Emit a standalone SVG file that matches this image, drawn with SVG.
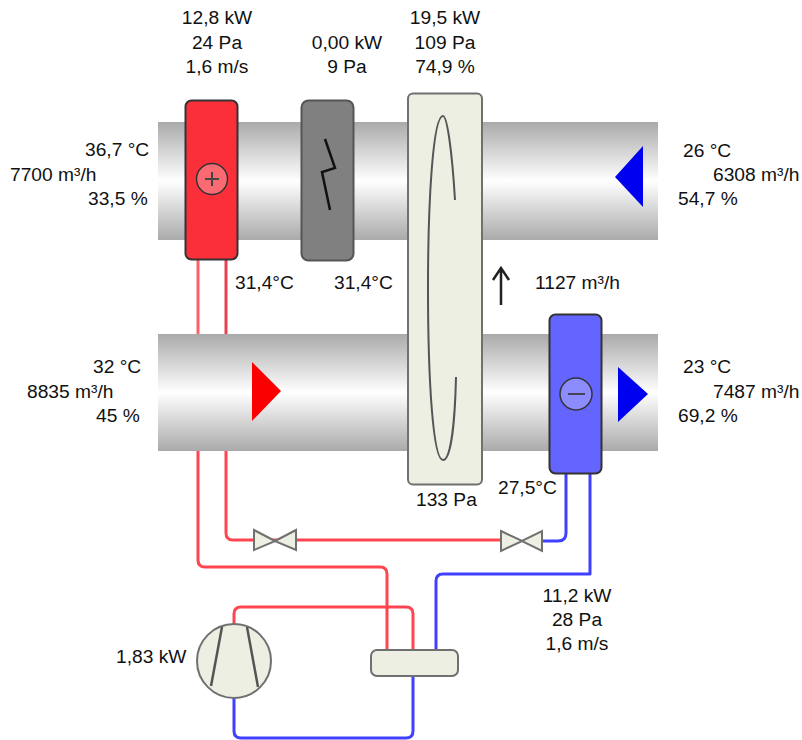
<svg xmlns="http://www.w3.org/2000/svg" width="802" height="740" viewBox="0 0 802 740">
<style>
text{font-family:"Liberation Sans",Arial,sans-serif;font-size:19.2px;fill:#111}
.m{text-anchor:middle}
.duct{fill:url(#duct)}
.p{fill:none;stroke-width:3;stroke-linejoin:round}
.r{stroke:#ff4650}.b{stroke:#4040ff}
.box{stroke:#333;stroke-width:2}
.eq{fill:#eeefe3;stroke:#707070;stroke-width:2}
</style>
<defs>
<linearGradient id="duct" x1="0" y1="0" x2="0" y2="1">
<stop offset="0" stop-color="#aaa"/><stop offset=".5" stop-color="#fff"/><stop offset="1" stop-color="#aaa"/>
</linearGradient>
</defs>
<rect width="802" height="740" fill="#fff"/>
<g id="connectors">
<path class="p" stroke="#ff6068" d="M198 258V340"/>
<path class="p r" d="M198 440V560Q198 567 205 567H380Q387 567 387 574V650"/>
<path class="p" stroke="#e8404f" d="M226 258V340"/>
<path class="p r" d="M226 440V533Q226 540 233 540H505"/>
<path class="p b" d="M566 472V533Q566 541 558 541H540"/>
<path class="p b" d="M590 472V574H443Q436 574 436 581V650"/>
<path class="p r" d="M234 626V614Q234 607 241 607H406Q413 607 413 614V650"/>
<path class="p b" d="M234 696V731Q234 738 241 738H406Q413 738 413 731V676"/>
</g>
<g id="duct-top"><rect class="duct" x="158" y="122" width="500" height="118"/></g>
<g id="duct-bottom"><rect class="duct" x="158" y="334" width="500" height="117"/></g>
<g id="heater">
<rect class="box" x="185.500" y="100.500" width="52" height="159" rx="6" fill="#fb2f3a"/>
<circle cx="212" cy="179" r="15.500" fill="#f96a72" stroke="#333" stroke-width="1.500"/>
<path d="M205 179H219M212 172V186" stroke="#444" stroke-width="2"/>
</g>
<g id="electric-heater">
<rect x="301.500" y="100.500" width="52" height="160" rx="7" fill="#808080" stroke="#555" stroke-width="2"/>
<path d="M325 139L335 168L322 172L330 210" fill="none" stroke="#111" stroke-width="2.500"/>
</g>
<g id="heat-wheel">
<rect class="eq" x="408" y="93.500" width="74" height="391" rx="5" stroke="#999"/>
<path d="M455 200C452 150 447 116 443 116C433 116 428 200 428 288C428 380 433 460 443 460C451 460 455 420 456 377" fill="none" stroke="#555" stroke-width="2"/>
</g>
<g id="cooler">
<rect class="box" x="549.500" y="314.500" width="52" height="159" rx="6" fill="#6464ff"/>
<circle cx="576" cy="394" r="16" fill="#8c8cff" stroke="#333" stroke-width="1.500"/>
<path d="M568 394H585" stroke="#445" stroke-width="2"/>
</g>
<g id="valve-1"><path class="eq" d="M254 530L275 541L296 530V550L275 541L254 550Z"/></g>
<g id="valve-2"><path class="eq" d="M501 531L522 541L542 531V551L522 541L501 551Z"/></g>
<g id="compressor">
<circle class="eq" cx="234" cy="661" r="37"/>
<path d="M222 627L211 686M247 627L258 687" stroke="#555" stroke-width="2.500" fill="none"/>
</g>
<g id="condenser"><rect class="eq" x="371" y="650" width="87" height="26" rx="6"/></g>
<g id="arrows">
<path d="M615 177L643 146V207Z" fill="#0000f0"/>
<path d="M252 362V421L281 391Z" fill="#fa0000"/>
<path d="M618 367V422L648 394Z" fill="#0000f0"/>
<path d="M501 305V269M493 280L501 268L509 280" fill="none" stroke="#222" stroke-width="2.500"/>
</g>
<g id="labels">
<text class="m" x="217" y="24">12,8 kW</text>
<text class="m" x="217" y="49">24 Pa</text>
<text class="m" x="217" y="73">1,6 m/s</text>
<text class="m" x="347" y="49">0,00 kW</text>
<text class="m" x="347" y="73">9 Pa</text>
<text class="m" x="445" y="24">19,5 kW</text>
<text class="m" x="445" y="49">109 Pa</text>
<text class="m" x="445" y="73">74,9 %</text>
<text x="85" y="156">36,7 °C</text>
<text x="10" y="181">7700 m³/h</text>
<text x="88" y="205">33,5 %</text>
<text x="683" y="157">26 °C</text>
<text x="713" y="181">6308 m³/h</text>
<text x="678" y="205">54,7 %</text>
<text x="235" y="289">31,4°C</text>
<text x="334" y="289">31,4°C</text>
<text x="535" y="289">1127 m³/h</text>
<text x="93" y="373">32 °C</text>
<text x="27" y="398">8835 m³/h</text>
<text x="96" y="422">45 %</text>
<text x="683" y="373">23 °C</text>
<text x="713" y="398">7487 m³/h</text>
<text x="678" y="422">69,2 %</text>
<text x="416" y="506">133 Pa</text>
<text x="498" y="494">27,5°C</text>
<text class="m" x="577" y="602">11,2 kW</text>
<text class="m" x="577" y="626">28 Pa</text>
<text class="m" x="577" y="650">1,6 m/s</text>
<text x="116" y="663">1,83 kW</text>
</g>
</svg>
